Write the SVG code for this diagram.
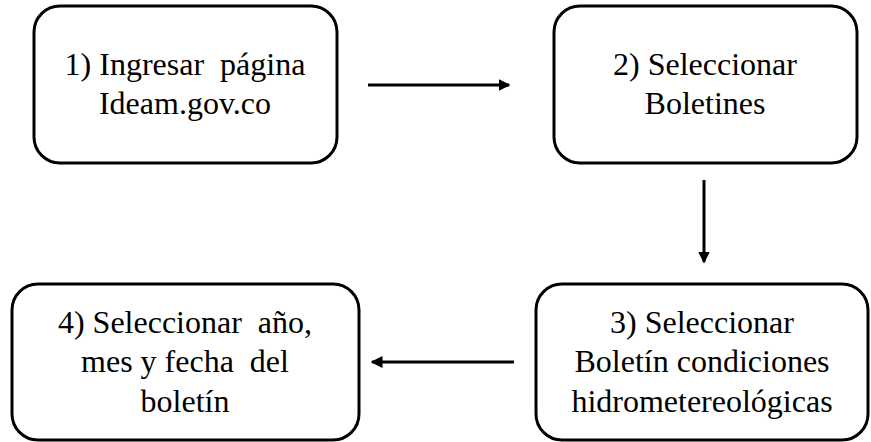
<svg xmlns="http://www.w3.org/2000/svg" width="871" height="442" viewBox="0 0 871 442">
<style>
.box{fill:#fff;stroke:#000;stroke-width:3}
.t{font-size:32px;fill:#000;text-anchor:middle}
.c{stroke:#000;stroke-width:3;fill:none}
</style>
<defs>
<marker id="ah" markerWidth="4" markerHeight="4" refX="3.5" refY="2" orient="auto" markerUnits="strokeWidth">
<path d="M0,0 L4,2 L0,4 Z" fill="#000"/>
</marker>
</defs>
<rect width="871" height="442" fill="#fff"/>
<g font-family="'Liberation Serif', 'Times New Roman', serif">
<g id="n1">
<rect class="box" x="34" y="6" width="303" height="157" rx="26"/>
<text class="t" x="185" y="75" xml:space="preserve">1) Ingresar  página</text>
<text class="t" x="185" y="114">Ideam.gov.co</text>
</g>
<g id="n2">
<rect class="box" x="554" y="6" width="303" height="157" rx="26"/>
<text class="t" x="705" y="75">2) Seleccionar</text>
<text class="t" x="705" y="114">Boletines</text>
</g>
<g id="n3">
<rect class="box" x="536" y="284" width="332" height="156" rx="26"/>
<text class="t" x="702" y="333">3) Seleccionar</text>
<text class="t" x="702" y="372">Boletín condiciones</text>
<text class="t" x="702" y="412">hidrometereológicas</text>
</g>
<g id="n4">
<rect class="box" x="12" y="284" width="347" height="156" rx="26"/>
<text class="t" x="185" y="333" xml:space="preserve">4) Seleccionar  año,</text>
<text class="t" x="185" y="372" xml:space="preserve">mes y fecha  del</text>
<text class="t" x="185" y="412">boletín</text>
</g>
</g>
<g id="connectors">
<line class="c" x1="368" y1="85" x2="509" y2="85" marker-end="url(#ah)"/>
<line class="c" x1="704" y1="180" x2="704" y2="262" marker-end="url(#ah)"/>
<line class="c" x1="514" y1="362" x2="372" y2="362" marker-end="url(#ah)"/>
</g>
</svg>
